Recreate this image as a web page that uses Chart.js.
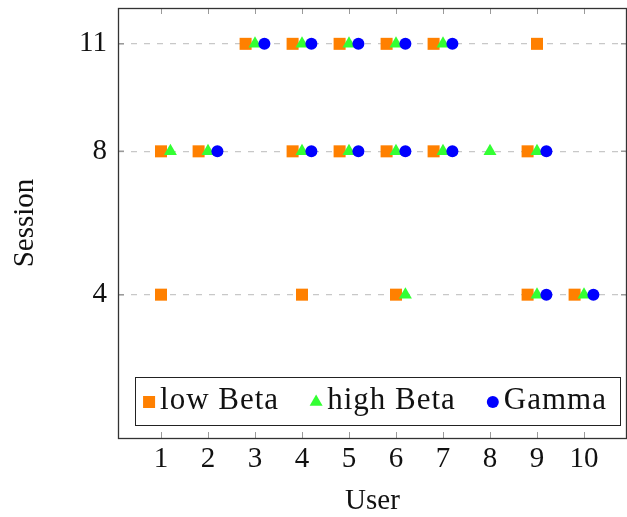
<!DOCTYPE html>
<html>
<head>
<meta charset="utf-8">
<title>Session by user</title>
<script src="https://cdn.jsdelivr.net/npm/chart.js@4/dist/chart.umd.min.js"></script>
<style>
  html, body { margin: 0; padding: 0; background: #fff; }
  canvas { display: block; }
</style>
</head>
<body>
<canvas id="chart" width="627" height="517"></canvas>
<script>
'use strict';

const userTicks = [1, 2, 3, 4, 5, 6, 7, 8, 9, 10];
const sessionTicks = [4, 8, 11];

// x positions are nudged per band so the three markers sit side by side
const lowBetaUser    = [2.8, 3.8, 4.8, 5.8, 6.8, 9.0, 1.0, 1.8, 3.8, 4.8, 5.8, 6.8, 8.8, 1.0, 4.0, 6.0, 8.8, 9.8];
const lowBetaSession = [11, 11, 11, 11, 11, 11, 8, 8, 8, 8, 8, 8, 8, 4, 4, 4, 4, 4];

const highBetaUser    = [3, 4, 5, 6, 7, 1.2, 2, 4, 5, 6, 7, 8, 9, 6.2, 9, 10];
const highBetaSession = [11, 11, 11, 11, 11, 8, 8, 8, 8, 8, 8, 8, 8, 4, 4, 4];

const gammaUser    = [3.2, 4.2, 5.2, 6.2, 7.2, 2.2, 4.2, 5.2, 6.2, 7.2, 9.2, 9.2, 10.2];
const gammaSession = [11, 11, 11, 11, 11, 8, 8, 8, 8, 8, 8, 4, 4];

const FONT = '"Liberation Serif", "DejaVu Serif", serif';

function toPoints(xs, ys) {
  return xs.map((x, i) => ({ x: x, y: ys[i] }));
}

// keep the plot box fixed: no extra room for overhanging tick labels
function noLabelPadding(scale) {
  scale.paddingTop = 0;
  scale.paddingBottom = 0;
  scale.paddingLeft = 0;
  scale.paddingRight = 0;
}

function drawMarker(ctx, style, color, r, x, y) {
  ctx.save();
  ctx.fillStyle = color;
  ctx.beginPath();
  if (style === 'rect') {
    const s = r * Math.SQRT1_2;
    ctx.rect(x - s, y - s, 2 * s, 2 * s);
  } else if (style === 'triangle') {
    ctx.moveTo(x, y - r);
    ctx.lineTo(x + r * Math.cos(Math.PI / 6), y + r / 2);
    ctx.lineTo(x - r * Math.cos(Math.PI / 6), y + r / 2);
    ctx.closePath();
  } else {
    ctx.arc(x, y, r, 0, Math.PI * 2);
  }
  ctx.fill();
  ctx.restore();
}

// box around the plot plus the small inward ticks
const framePlugin = {
  id: 'frame',
  afterDatasetsDraw(chart) {
    const { ctx, chartArea: a, scales } = chart;
    ctx.save();
    ctx.strokeStyle = '#9a9a9a';
    ctx.lineWidth = 1;
    userTicks.forEach(v => {
      const px = Math.round(scales.x.getPixelForValue(v)) + 0.5;
      ctx.beginPath();
      ctx.moveTo(px, a.bottom);
      ctx.lineTo(px, a.bottom - 6);
      ctx.moveTo(px, a.top);
      ctx.lineTo(px, a.top + 6);
      ctx.stroke();
    });
    ctx.lineWidth = 1.5;
    sessionTicks.forEach(v => {
      const py = scales.y.getPixelForValue(v);
      ctx.beginPath();
      ctx.moveTo(a.left, py);
      ctx.lineTo(a.left + 6, py);
      ctx.moveTo(a.right, py);
      ctx.lineTo(a.right - 6, py);
      ctx.stroke();
    });
    ctx.strokeStyle = '#333';
    ctx.lineWidth = 1.3;
    ctx.strokeRect(a.left + 0.5, a.top + 0.5, a.right - a.left - 1, a.bottom - a.top);
    ctx.restore();
  }
};

// legend drawn inside the plot, near the bottom
const insideLegend = {
  id: 'insideLegend',
  afterDraw(chart) {
    const { ctx, chartArea: a } = chart;
    const sets = chart.data.datasets;
    const gap = 37;
    ctx.save();
    ctx.font = '31px ' + FONT;
    ctx.letterSpacing = '1px';
    ctx.textBaseline = 'alphabetic';
    let width = 14;
    sets.forEach((ds, i) => {
      width += 11 + ctx.measureText(ds.label).width;
      if (i < sets.length - 1) width += gap;
    });
    width += 13;
    const boxH = 48;
    const left = (a.left + a.right) / 2 + 5 - width / 2;
    const top = a.bottom - 13 - boxH;
    ctx.fillStyle = '#fff';
    ctx.fillRect(left, top, width, boxH);
    ctx.strokeStyle = '#222';
    ctx.lineWidth = 1;
    ctx.strokeRect(Math.round(left) + 0.5, Math.round(top) + 0.5, Math.round(width), boxH);
    let x = left + 14;
    sets.forEach(ds => {
      drawMarker(ctx, ds.pointStyle, ds.backgroundColor, ds.pointRadius, x, top + 25);
      x += 11;
      ctx.fillStyle = '#111';
      ctx.fillText(ds.label, x, top + 32);
      x += ctx.measureText(ds.label).width + gap;
    });
    ctx.restore();
  }
};

new Chart(document.getElementById('chart'), {
  type: 'scatter',
  data: {
    datasets: [
      {
        label: 'low Beta',
        data: toPoints(lowBetaUser, lowBetaSession),
        pointStyle: 'rect',
        pointRadius: 8.5,
        backgroundColor: '#ff8000',
        borderWidth: 0,
        order: 3,
      },
      {
        label: 'high Beta',
        data: toPoints(highBetaUser, highBetaSession),
        pointStyle: 'triangle',
        pointRadius: 7.5,
        backgroundColor: '#33ff33',
        borderWidth: 0,
        order: 2,
      },
      {
        label: 'Gamma',
        data: toPoints(gammaUser, gammaSession),
        pointStyle: 'circle',
        pointRadius: 6,
        backgroundColor: '#0000ff',
        borderWidth: 0,
        order: 1,
      },
    ],
  },
  options: {
    responsive: false,
    animation: false,
    devicePixelRatio: 1,
    layout: { autoPadding: false, padding: { top: 8, right: 0, bottom: 0, left: 0 } },
    plugins: {
      legend: { display: false },
      tooltip: { enabled: false },
    },
    scales: {
      x: {
        type: 'linear',
        min: 0.085,
        max: 10.915,
        afterBuildTicks: scale => { scale.ticks = userTicks.map(v => ({ value: v })); },
        afterFit: scale => { scale.height = 79; noLabelPadding(scale); },
        grid: { display: false, drawTicks: false },
        border: { display: false },
        ticks: { color: '#111', font: { family: FONT, size: 29 }, padding: 4, maxRotation: 0, autoSkip: false },
        title: { display: true, text: 'User', color: '#111', font: { family: FONT, size: 29 }, padding: { top: 0, bottom: -2 } },
      },
      y: {
        type: 'linear',
        min: 0,
        max: 12,
        afterBuildTicks: scale => { scale.ticks = sessionTicks.map(v => ({ value: v })); },
        afterFit: scale => { scale.width = 118; noLabelPadding(scale); },
        grid: { color: '#c8c8c8', lineWidth: 1.3, drawTicks: false },
        border: { display: false, dash: [6, 7] },
        ticks: { color: '#111', font: { family: FONT, size: 29 }, padding: 11 },
        title: { display: true, text: 'Session', color: '#111', font: { family: FONT, size: 29 }, padding: { top: 8, bottom: 0 } },
      },
    },
  },
  plugins: [framePlugin, insideLegend],
});
</script>
</body>
</html>
